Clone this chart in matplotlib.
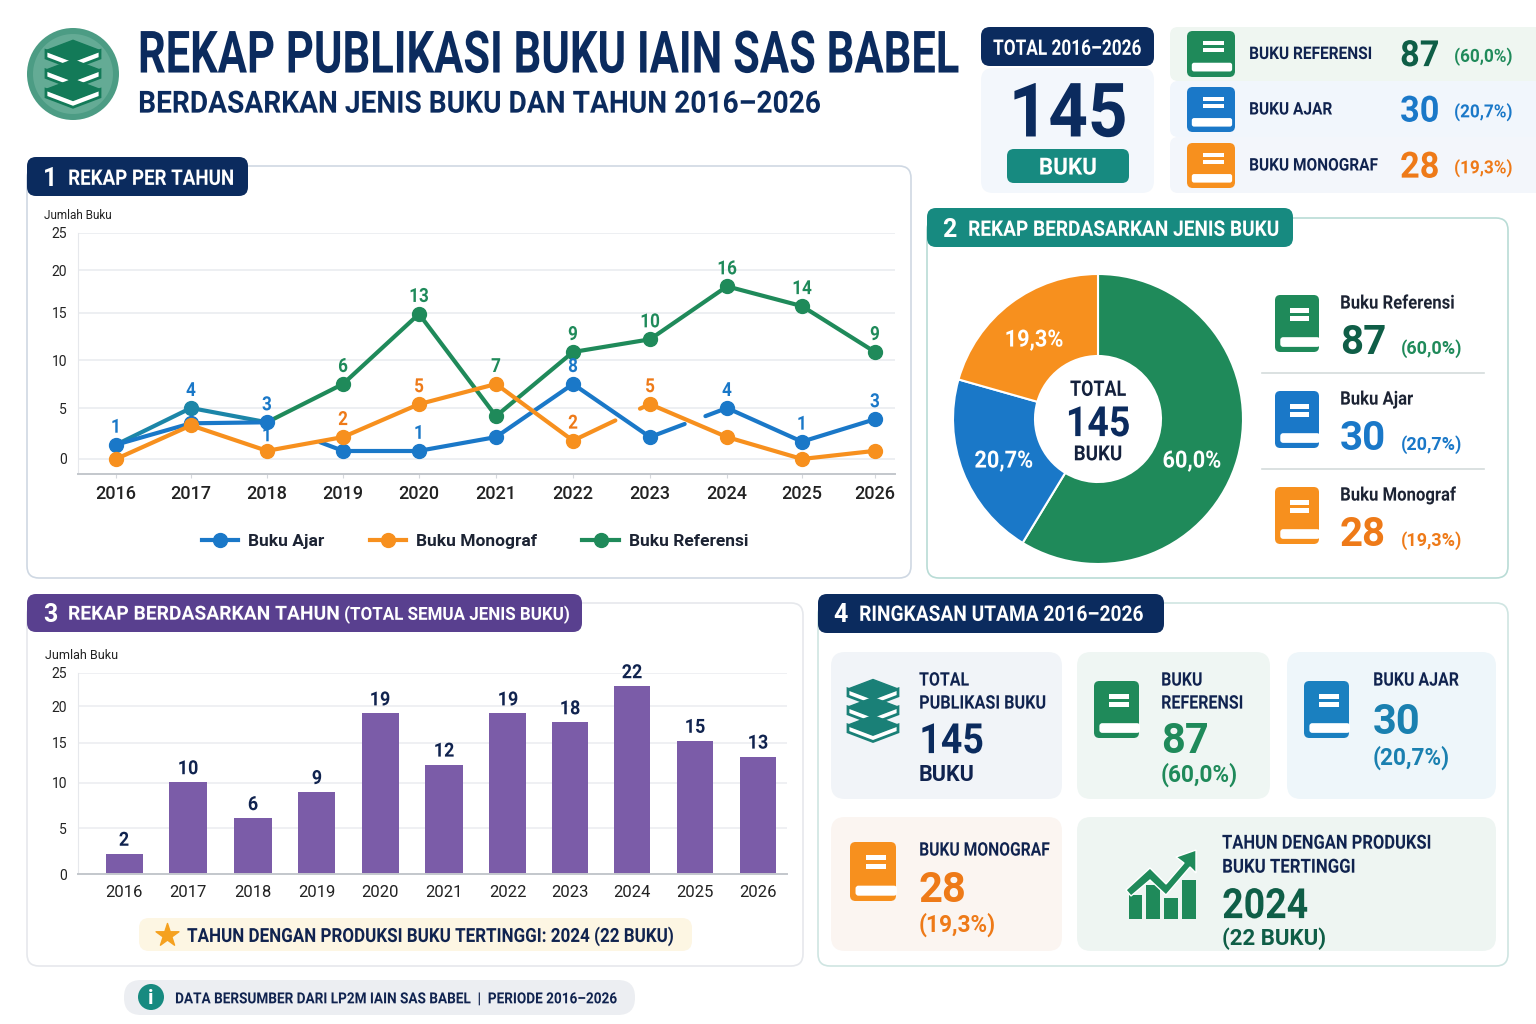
import numpy as np
import matplotlib
matplotlib.use("Agg")
import matplotlib.pyplot as plt
from matplotlib.lines import Line2D
from matplotlib.patches import FancyBboxPatch, Rectangle, Polygon, Circle
from matplotlib.patheffects import AbstractPathEffect
from matplotlib.transforms import Affine2D, Bbox

W, H = 1536, 1024

years = list(range(2016, 2027))

ajar_vals = [1.4, 3.5, 3.6, 0.8, 0.8, 2.15, 7.5, 2.15, 5.0, 1.7, 3.9]
mono_vals = [0.0, 3.3, 0.8, 2.15, 5.4, 7.5, 1.8, 5.4, 2.15, 0.0, 0.8]
ref_vals = [1.4, 5.0, 3.6, 7.5, 14.9, 4.2, 10.85, 12.2, 18.1, 15.8, 10.85]

# printed labels: year, text, series value the label hangs on
ajar_labels = [(2016, "1", 1.4), (2017, "4", 5.0), (2018, "3", 3.6), (2020, "1", 0.8),
               (2022, "8", 7.5), (2024, "4", 5.0), (2025, "1", 1.7), (2026, "3", 3.9)]
mono_labels = [(2019, "2", 2.15), (2020, "5", 5.4), (2022, "2", 1.8), (2023, "5", 5.4)]
ref_labels = [(2019, "6", 7.5), (2020, "13", 14.9), (2021, "7", 7.5), (2022, "9", 10.85),
              (2023, "10", 12.2), (2024, "16", 18.1), (2025, "14", 15.8), (2026, "9", 10.85)]

# bar chart
bar_heights = [2.2, 10.1, 6.1, 9.0, 19.0, 12.3, 19.0, 17.8, 23.0, 15.3, 13.3]
bar_labels = [2, 10, 6, 9, 19, 12, 19, 18, 22, 15, 13]

# pie: slice sizes as drawn, then the printed numbers
pie_shares = [58.7, 20.7, 20.6]
pie_names = ["Buku Referensi", "Buku Ajar", "Buku Monograf"]
pie_counts = [87, 30, 28]
pie_pcts = ["60,0%", "20,7%", "19,3%"]

y_ticks = [0, 5, 10, 15, 20, 25]

NAVY = "#0b2b5e"
INK = "#10234f"
GREEN = "#1f8a5a"
DGREEN = "#0f5e47"
BLUE = "#1a78c8"
ORANGE = "#f7901e"
DORANGE = "#ee7a18"
PURPLE = "#7b5ca8"
HPURPLE = "#59408f"
TEAL = "#178a80"

plt.rcParams["font.family"] = ["Roboto", "DejaVu Sans"]
plt.rcParams["font.weight"] = "bold"

fig = plt.figure(figsize=(W / 100, H / 100), dpi=100, facecolor="white")
bg = fig.add_axes([0, 0, 1, 1])
bg.set_xlim(0, W)
bg.set_ylim(H, 0)
bg.axis("off")
# texts go on a second full size layer, above the chart axes
top = fig.add_axes([0, 0, 1, 1], zorder=10)
top.set_xlim(0, W)
top.set_ylim(H, 0)
top.axis("off")


class Squeeze(AbstractPathEffect):
    # none of the installed fonts is condensed, so narrow the glyphs sideways
    def __init__(self, k, ha):
        super().__init__()
        self.k = k
        self.ha = ha

    def draw_path(self, renderer, gc, tpath, affine, rgbFace=None):
        ext = tpath.get_extents(affine)
        ax_x = ext.x0 if self.ha == "left" else (ext.x0 + ext.x1) / 2
        narrow = affine + Affine2D().translate(-ax_x, 0).scale(self.k, 1).translate(ax_x, 0)
        renderer.draw_path(gc, tpath, narrow, rgbFace)


def squeeze(txt, k, ha="center"):
    txt.set_path_effects([Squeeze(k, ha)])
    full_extent = txt.get_window_extent

    def narrow_extent(renderer=None, dpi=None):
        bb = full_extent(renderer, dpi)
        w = bb.width * k
        x0 = bb.x0 if ha == "left" else bb.x0 + (bb.width - w) / 2
        return Bbox.from_bounds(x0, bb.y0, w, bb.height)

    txt.get_window_extent = narrow_extent
    return txt


def box(x0, y0, x1, y1, fc, ec="none", r=10, lw=1.2, z=1):
    p = FancyBboxPatch((x0 + r, y0 + r), x1 - x0 - 2 * r, y1 - y0 - 2 * r,
                       boxstyle=f"round,pad={r},rounding_size={r}",
                       fc=fc, ec=ec, lw=lw, zorder=z)
    bg.add_patch(p)


def t(x, y, s, size, color=INK, ha="left", weight="bold", k=1.0):
    # y is the middle of the capitals in the picture
    txt = top.text(x, y + size * 0.12, s, fontsize=size, color=color, ha=ha, va="center",
                   fontweight=weight, zorder=5)
    if k != 1.0:
        squeeze(txt, k, ha)


def book(x0, y0, x1, y1, color, outline=False, z=3):
    # cover, two label bars, page strip
    w, h = x1 - x0, y1 - y0
    box(x0, y0, x1, y1, color, r=w * 0.12, z=z)
    bg.add_patch(Rectangle((x0 + w * 0.34, y0 + h * 0.22), w * 0.44, h * 0.09, fc="white", zorder=z + 1))
    bg.add_patch(Rectangle((x0 + w * 0.34, y0 + h * 0.37), w * 0.44, h * 0.09, fc="white", zorder=z + 1))
    if outline:
        box(x0 + w * 0.12, y0 + h * 0.74, x1 + 1, y0 + h * 0.91, "white", r=h * 0.05, z=z + 1)
    else:
        box(x0 + w * 0.1, y0 + h * 0.69, x1 - w * 0.06, y0 + h * 0.88, "white", r=h * 0.05, z=z + 1)


def stack(cx, cy, s, dark, light="white"):
    # pile of three books seen from above
    for dy in (s * 0.72, 0, -s * 0.72):
        bg.add_patch(Polygon([(cx - s, cy + dy), (cx, cy + dy + s * 0.38), (cx + s, cy + dy),
                              (cx + s, cy + dy + s * 0.28), (cx, cy + dy + s * 0.66),
                              (cx - s, cy + dy + s * 0.28)], fc=light, ec=dark, lw=2, zorder=3))
        bg.add_patch(Polygon([(cx - s, cy + dy), (cx, cy + dy - s * 0.38), (cx + s, cy + dy),
                              (cx, cy + dy + s * 0.38)], fc=dark, ec=dark, zorder=4))


def uneven_scale(ax, axis, ticks, pos):
    # tick spacing in the picture is not even, pos are tick places in pixels
    src = np.array(ticks, float)
    dst = np.array(pos, float)
    if axis == "y":
        dst = -dst
    funcs = (lambda v: np.interp(v, src, dst), lambda p: np.interp(p, dst, src))
    if axis == "y":
        ax.set_yscale("function", functions=funcs)
    else:
        ax.set_xscale("function", functions=funcs)


def pixel_axes(x0, y0, x1, y1):
    return fig.add_axes([x0 / W, 1 - y1 / H, (x1 - x0) / W, (y1 - y0) / H])


# header
bg.add_patch(Circle((73, 74), 46, fc="#4c9c84", zorder=2))
bg.add_patch(Circle((73, 74), 40, fc="#64ab95", zorder=2))
stack(73, 70, 27, "#137a58")
t(137, 52, "REKAP PUBLIKASI BUKU IAIN SAS BABEL", 42, NAVY, k=0.745)
t(138, 101, "BERDASARKAN JENIS BUKU DAN TAHUN 2016–2026", 22, NAVY, k=0.92)

# top right cards
box(981, 68, 1154, 193, "#f3f7fc", r=12)
box(981, 27, 1154, 66, NAVY, r=9, z=2)
t(1067, 47, "TOTAL 2016–2026", 15.5, "white", ha="center", k=0.8)
t(1068, 110, "145", 54, NAVY, ha="center", k=0.92)
box(1007, 149, 1129, 183, TEAL, r=7, z=2)
t(1068, 166, "BUKU", 17, "white", ha="center", k=0.95)

card_y = [(27, 81, "#eff6f1"), (81, 137, "#f1f6fc"), (137, 193, "#f3f6fb")]
icon_y = [(31, 77), (87, 132), (143, 188)]
top_names = ["BUKU REFERENSI", "BUKU AJAR", "BUKU MONOGRAF"]
top_cols = [(GREEN, DGREEN, GREEN), (BLUE, BLUE, BLUE), (ORANGE, DORANGE, DORANGE)]
for i in range(3):
    y0, y1, fc = card_y[i]
    box(1170, y0, 1560, y1, fc, r=8)
    book(1187, icon_y[i][0], 1235, icon_y[i][1], top_cols[i][0])
    yc = (icon_y[i][0] + icon_y[i][1]) / 2 - 1
    t(1249, yc, top_names[i], 12.5, INK, k=0.89)
    t(1400, yc, str(pie_counts[i]), 26, top_cols[i][1], k=0.95)
    t(1454, yc + 2, f"({pie_pcts[i]})", 13, top_cols[i][2], k=0.95)

# panels
box(27, 166, 911, 578, "white", "#cfd8e3", r=12)
box(927, 218, 1508, 578, "white", "#b9dcd6", r=12)
box(27, 603, 803, 966, "white", "#e6e8ec", r=12)
box(818, 603, 1508, 966, "white", "#cfe5e2", r=12)

box(27, 157, 248, 196, NAVY, r=9, z=2)
t(43, 177, "1", 18, "white")
t(68, 177, "REKAP PER TAHUN", 15.5, "white", k=0.87)
box(927, 208, 1293, 247, TEAL, r=9, z=2)
t(942, 228, "2", 18, "white")
t(968, 228, "REKAP BERDASARKAN JENIS BUKU", 15.5, "white", k=0.885)
box(27, 594, 582, 632, HPURPLE, r=9, z=2)
t(43, 613, "3", 18, "white")
t(68, 613, "REKAP BERDASARKAN TAHUN", 14, "white", k=0.99)
t(344, 613, "(TOTAL SEMUA JENIS BUKU)", 13, "white", k=0.94)
box(818, 594, 1164, 633, NAVY, r=9, z=2)
t(833, 613, "4", 18, "white")
t(859, 613, "RINGKASAN UTAMA 2016–2026", 15.5, "white", k=0.89)

# panel 1: line chart
t(44, 214, "Jumlah Buku", 8.5, "#222222", weight="normal")
ax = pixel_axes(78, 233, 895, 474)
uneven_scale(ax, "y", [-1.5] + y_ticks, [474, 459, 408, 360, 313, 270, 233])
uneven_scale(ax, "x", [2015.5] + years + [2026.26],
             [78, 116, 191, 267, 343, 419, 496, 573, 650, 727, 802, 875, 895])
ax.set_xlim(2015.5, 2026.26)
ax.set_ylim(-1.5, 25)
ax.set_yticks(y_ticks)
ax.set_xticks(years)
ax.grid(axis="y", color="#eceef1", lw=1.3)
ax.set_axisbelow(True)
for s in ("top", "right"):
    ax.spines[s].set_visible(False)
ax.spines["left"].set_color("#e6e8ec")
ax.spines["bottom"].set_color("#c3c7cc")
ax.spines["bottom"].set_linewidth(1.4)
ax.tick_params(axis="y", length=0, pad=8, labelsize=10, labelcolor="#222222")
ax.tick_params(axis="x", length=3, color="#d5d8dc", pad=5, labelsize=13, labelcolor="#222222")
for lab in ax.get_xticklabels():
    lab.set_fontweight("medium")
for lab in ax.get_yticklabels():
    lab.set_fontweight("normal")
ax.patch.set_alpha(0)


def draw_series(ax, vals, color, gaps=None, lw=3):
    # plot segment by segment, leaving out the parts hidden behind label halos
    gaps = gaps or {}
    for i in range(len(vals) - 1):
        x0, x1, y0, y1 = years[i], years[i + 1], vals[i], vals[i + 1]
        if i in gaps:
            a, b = gaps[i]
            if a > 0:
                ax.plot([x0, x0 + a], [y0, y0 + a * (y1 - y0)], color=color, lw=lw, solid_capstyle="round")
            if b < 1:
                ax.plot([x0 + b, x1], [y0 + b * (y1 - y0), y1], color=color, lw=lw, solid_capstyle="round")
        else:
            ax.plot([x0, x1], [y0, y1], color=color, lw=lw, solid_capstyle="round")
    ax.plot(years, vals, ls="none", marker="o", ms=10, color=color, zorder=4)


TEALBLUE = "#1c86a8"
# reference line: first stretch is drawn teal blue
ax.plot(years[:3], ref_vals[:3], color=TEALBLUE, lw=3)
ax.plot(years[2:], ref_vals[2:], color=GREEN, lw=3)
ax.plot(years[3:], ref_vals[3:], ls="none", marker="o", ms=10, color=GREEN, zorder=4)
ax.plot(years[1:2], ref_vals[1:2], ls="none", marker="o", ms=10, color=TEALBLUE, zorder=4)
draw_series(ax, ajar_vals, BLUE, gaps={2: (0.0, 0.7), 7: (0.45, 0.72)})
draw_series(ax, mono_vals, ORANGE, gaps={6: (0.55, 0.87)})

for labs, col in ((ajar_labels, BLUE), (mono_labels, DORANGE), (ref_labels, GREEN)):
    for yr, s, v in labs:
        squeeze(ax.annotate(s, (yr, v), xytext=(0, 17), textcoords="offset pixels", ha="center",
                            va="center", color=col, fontsize=14, zorder=6, annotation_clip=False), 0.88)
squeeze(ax.annotate("1", (2018, 3.6), xytext=(0, -14), textcoords="offset pixels", ha="center",
                    va="center", color=BLUE, fontsize=14, zorder=2), 0.88)

handles = [Line2D([], [], color=BLUE, lw=3, marker="o", ms=10),
           Line2D([], [], color=ORANGE, lw=3, marker="o", ms=10),
           Line2D([], [], color=GREEN, lw=3, marker="o", ms=10)]
leg = fig.legend(handles, ["Buku Ajar", "Buku Monograf", "Buku Referensi"], loc="center",
                 bbox_to_anchor=(475 / W, 1 - 541 / H), ncol=3, frameon=False, fontsize=12.5,
                 handlelength=2.1, columnspacing=2.6, handletextpad=0.58)
for txt in leg.get_texts():
    txt.set_color("#1c2333")

# panel 2: donut
pax = pixel_axes(953, 274, 1243, 564)
pax.pie(pie_shares, colors=[GREEN, BLUE, ORANGE], startangle=90, counterclock=False, radius=1,
        wedgeprops=dict(width=1 - 63 / 145, edgecolor="white", linewidth=1.5))
pax.set_xlim(-1, 1)
pax.set_ylim(-1, 1)
t(1192, 459, "60,0%", 17, "white", ha="center", k=0.92)
t(1004, 459, "20,7%", 17, "white", ha="center", k=0.92)
t(1034, 338, "19,3%", 17, "white", ha="center", k=0.92)
t(1098, 388, "TOTAL", 15.5, "#14213d", ha="center", k=0.83)
t(1098, 421, "145", 30, NAVY, ha="center", k=0.9)
t(1098, 453, "BUKU", 15, "#14213d", ha="center", k=0.9)

leg_y = [(295, 352), (391, 448), (487, 544)]
leg_cols = [(GREEN, DGREEN, GREEN), (BLUE, BLUE, BLUE), (ORANGE, DORANGE, DORANGE)]
for i in range(3):
    y0, y1 = leg_y[i]
    book(1275, y0, 1319, y1, leg_cols[i][0], outline=True)
    t(1340, y0 + 7, pie_names[i], 13.5, "#1c2333", k=0.89)
    t(1340, y0 + 45, str(pie_counts[i]), 29, leg_cols[i][1])
    t(1401, y0 + 52, f"({pie_pcts[i]})", 13, leg_cols[i][2])
bg.plot([1262, 1484], [373, 373], color="#d4dcdc", lw=1.2)
bg.plot([1262, 1484], [469, 469], color="#d4dcdc", lw=1.2)

# panel 3: bars
t(45, 654, "Jumlah Buku", 9, "#222222", weight="normal")
bax = pixel_axes(78, 673, 787, 874)
uneven_scale(bax, "y", y_ticks, [874, 828, 783, 743, 706, 673])
uneven_scale(bax, "x", [2015.27] + years + [2026.46],
             [78, 124, 188, 253, 317, 380, 444, 508, 570, 632, 695, 758, 787])
bax.set_xlim(2015.27, 2026.46)
bax.set_ylim(0, 25)
bax.bar(years, bar_heights, width=0.58, color=PURPLE)
bax.set_yticks(y_ticks)
bax.set_xticks(years)
bax.grid(axis="y", color="#eceef1", lw=1.2)
bax.set_axisbelow(True)
for s in ("top", "right"):
    bax.spines[s].set_visible(False)
bax.spines["left"].set_color("#e6e8ec")
bax.spines["bottom"].set_color("#c3c7cc")
bax.spines["bottom"].set_linewidth(1.4)
bax.tick_params(axis="y", length=0, pad=8, labelsize=10, labelcolor="#222222")
bax.tick_params(axis="x", length=0, pad=8, labelsize=12, labelcolor="#222222")
for lab in bax.get_yticklabels() + bax.get_xticklabels():
    lab.set_fontweight("normal")
for yr, h, s in zip(years, bar_heights, bar_labels):
    squeeze(bax.annotate(str(s), (yr, h), xytext=(0, 13), textcoords="offset pixels", ha="center",
                         va="center", color=INK, fontsize=14, annotation_clip=False), 0.92)

box(139, 918, 692, 951, "#fdf6e3", r=10)
bg.scatter([167], [935], marker="*", s=300, color="#f5a11f", zorder=4)
t(187, 935, "TAHUN DENGAN PRODUKSI BUKU TERTINGGI: 2024 (22 BUKU)", 14, INK, k=0.875)

# panel 4: summary cards
box(831, 652, 1062, 799, "#f1f4f8", r=14)
box(1077, 652, 1270, 799, "#eff6f3", r=14)
box(1287, 652, 1496, 799, "#eef6fa", r=14)
box(831, 817, 1062, 951, "#fbf5f1", r=14)
box(1077, 817, 1496, 951, "#eef5f2", r=14)

stack(873, 707, 25, "#1a8077")
t(919, 679, "TOTAL", 13.5, k=0.85)
t(919, 702, "PUBLIKASI BUKU", 13.5, k=0.865)
t(919, 738, "145", 30, NAVY, k=0.9)
t(919, 773, "BUKU", 15.5)

book(1094, 681, 1139, 738, GREEN, outline=True)
t(1161, 679, "BUKU", 13.5, k=0.85)
t(1161, 702, "REFERENSI", 13.5, k=0.855)
t(1161, 738, "87", 30, GREEN)
t(1161, 773, "(60,0%)", 16.3, GREEN)

book(1304, 681, 1349, 738, "#1a80c0", outline=True)
t(1373, 679, "BUKU AJAR", 13.5, k=0.85)
t(1373, 719, "30", 30, "#1a80b0")
t(1373, 756, "(20,7%)", 16.3, "#1a80b0")

book(850, 842, 896, 901, ORANGE, outline=True)
t(919, 849, "BUKU MONOGRAF", 13.5, k=0.835)
t(919, 887, "28", 30, DORANGE)
t(919, 923, "(19,3%)", 16.3, DORANGE)

# trend icon
for x0, x1, top_y in [(1129, 1142, 895), (1146, 1160, 885), (1164, 1178, 898), (1182, 1196, 880)]:
    bg.add_patch(Rectangle((x0, top_y), x1 - x0, 919 - top_y, fc=GREEN, zorder=3))
bg.add_patch(Polygon([(1126, 890), (1150, 868), (1166, 884), (1184, 863), (1176, 857), (1196, 850),
                      (1196, 873), (1190, 867), (1166, 895), (1150, 880), (1131, 896)],
                     fc=GREEN, ec="white", lw=1, zorder=4))
t(1222, 842, "TAHUN DENGAN PRODUKSI", 14, k=0.85)
t(1222, 866, "BUKU TERTINGGI", 14, k=0.865)
t(1222, 903, "2024", 30, DGREEN, k=0.9)
t(1222, 937, "(22 BUKU)", 16, DGREEN)

# source strip
box(124, 980, 635, 1015, "#eceef2", r=17)
bg.add_patch(Circle((151, 997), 13, fc=TEAL, zorder=3))
t(151, 997, "i", 15, "white", ha="center")
t(175, 998, "DATA BERSUMBER DARI LP2M IAIN SAS BABEL  |  PERIODE 2016–2026", 11, INK, k=0.89)

fig.savefig("out.png", dpi=100, facecolor="white")
